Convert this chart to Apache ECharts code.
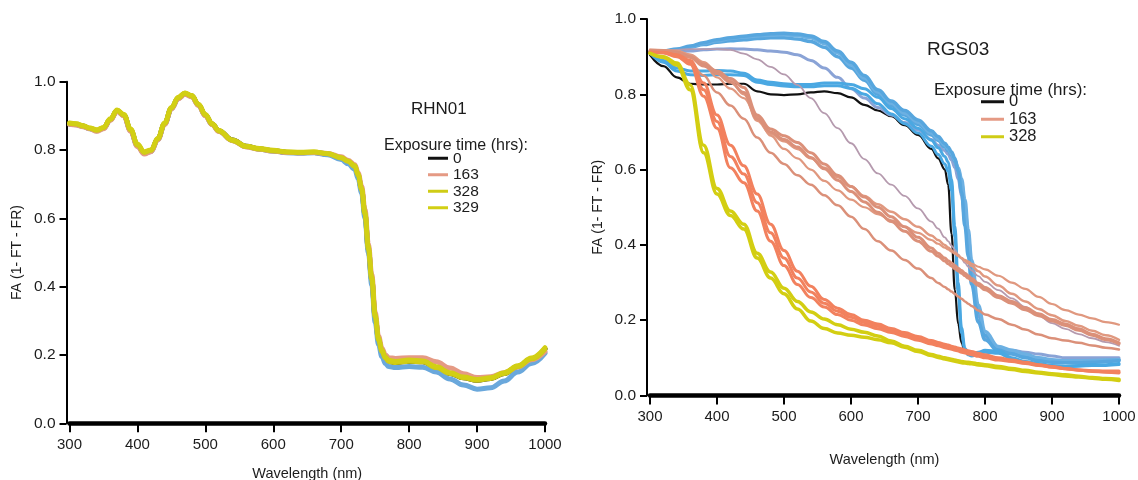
<!DOCTYPE html>
<html><head><meta charset="utf-8">
<script src="https://cdn.jsdelivr.net/npm/echarts@6/dist/echarts.min.js"></script>
<style>html,body{margin:0;padding:0;background:#fff}#c{width:1138px;height:480px}</style>
</head><body><div id="c"></div>
<script>
// ---------- Left panel: RHN01 ----------
const xTicks = [300, 400, 500, 600, 700, 800, 900, 1000];
const yTicks = [0.0, 0.2, 0.4, 0.6, 0.8, 1.0];

const rhnWl = [300,310,320,330,340,350,360,370,380,390,
  400,410,420,430,440,450,460,470,480,490,
  500,510,520,540,560,580,600,620,640,660,
  680,700,710,720,725,730,735,740,745,750,
  755,760,765,770,780,800,820,840,860,880,
  900,920,940,960,980,1000];
const rhnBlue = [.876,.874,.869,.862,.856,.863,.888,.914,.901,.857,
  .812,.790,.796,.831,.876,.921,.951,.964,.957,.931,
  .901,.875,.855,.828,.810,.802,.797,.792,.791,.792,
  .786,.772,.760,.744,.716,.674,.600,.500,.405,.296,
  .230,.195,.175,.166,.163,.166,.164,.150,.130,.112,
  .100,.104,.124,.150,.175,.205];
const rhn0 = [.877,.875,.870,.863,.857,.864,.889,.915,.902,.858,
  .813,.791,.797,.832,.877,.922,.952,.965,.958,.932,
  .902,.876,.856,.829,.811,.803,.798,.793,.792,.793,
  .788,.776,.766,.751,.725,.684,.611,.509,.419,.311,
  .244,.210,.191,.181,.178,.182,.180,.163,.146,.133,
  .126,.131,.146,.166,.189,.218];
const rhn163 = [.875,.873,.868,.862,.855,.862,.887,.913,.900,.855,
  .810,.788,.795,.830,.875,.920,.950,.963,.956,.930,
  .900,.874,.854,.827,.809,.802,.797,.793,.792,.793,
  .790,.780,.770,.757,.733,.695,.625,.525,.435,.325,
  .255,.220,.200,.192,.190,.192,.192,.180,.162,.145,
  .134,.136,.148,.165,.186,.210];
const rhn328 = [.878,.876,.870,.864,.858,.865,.890,.916,.903,.860,
  .815,.793,.799,.833,.878,.923,.953,.966,.958,.933,
  .903,.876,.856,.828,.810,.803,.798,.794,.793,.794,
  .789,.777,.767,.752,.726,.685,.612,.510,.420,.312,
  .244,.210,.191,.181,.178,.182,.180,.163,.146,.133,
  .126,.131,.146,.166,.189,.218];
const rhn329 = [.880,.878,.872,.865,.860,.867,.892,.918,.905,.862,
  .818,.796,.801,.835,.880,.925,.955,.968,.960,.935,
  .905,.878,.858,.830,.812,.805,.800,.795,.794,.795,
  .790,.778,.768,.755,.730,.690,.620,.520,.430,.320,
  .250,.215,.195,.185,.182,.186,.183,.166,.149,.136,
  .129,.134,.149,.169,.192,.222];

// ---------- Right panel: RGS03 ----------
const rgsWl = [300,320,340,360,380,400,420,440,460,480,
  500,520,540,560,580,600,620,640,660,680,
  700,720,730,740,745,750,755,760,765,770,
  775,780,790,800,820,840,860,880,900,920,
  940,960,980,1000];
const rgs0 = [.905,.875,.845,.828,.826,.826,.828,.828,.808,.800,
  .798,.800,.805,.808,.803,.792,.772,.757,.742,.718,
  .692,.655,.630,.600,.560,.430,.280,.190,.140,.115,
  .110,null,null,null,null,null,null,null,null,null,
  null,null,null,null];
const rgsBlueA = [.912,.915,.920,.928,.937,.945,.950,.954,.958,.961,
  .962,.960,.955,.940,.915,.885,.850,.812,.782,.757,
  .732,.703,.688,.670,.660,.647,.630,.595,.540,.450,
  .370,.295,.195,.148,.118,.110,.100,.092,.088,.087,
  .087,.088,.090,.092];
const rgsBlueB = [.912,.913,.917,.925,.932,.938,.942,.945,.948,.950,
  .950,.947,.940,.925,.900,.870,.837,.800,.770,.745,
  .720,.692,.677,.660,.650,.638,.622,.600,.565,.500,
  .420,.340,.225,.160,.122,.115,.105,.095,.090,.088,
  .088,.090,.092,.095];
const rgsBlueC = [.912,.912,.913,.915,.918,.920,.921,.920,.918,.915,
  .912,.905,.890,.870,.845,.815,.790,.765,.745,.725,
  .705,.680,.665,.650,.640,.625,.605,.575,.530,.460,
  .390,.320,.210,.155,.125,.120,.115,.110,.105,.100,
  .100,.100,.100,.100];
const rgsBlueD = [.912,.914,.918,.926,.935,.942,.948,.952,.955,.957,
  .958,.956,.950,.935,.910,.878,.843,.806,.776,.750,
  .726,.697,.682,.665,.655,.642,.625,.605,.575,.520,
  .440,.360,.240,.170,.130,.120,.110,.100,.095,.092,
  .092,.093,.094,.095];
const rgsBlueE = [.910,.890,.870,.862,.862,.863,.862,.856,.838,.832,
  .828,.826,.826,.830,.830,.826,.815,.792,.762,.735,
  .710,.678,.658,.635,.620,.575,.450,.300,.180,.125,
  .115,.112,.115,.120,.118,.100,.090,.085,.080,.078,
  .080,.082,.082,.085];
const rgsBlueF = [.910,.885,.862,.852,.850,.852,.852,.850,.832,.826,
  .822,.820,.820,.823,.823,.816,.800,.775,.748,.722,
  .697,.662,.640,.615,.595,.545,.420,.270,.165,.120,
  .108,.105,.110,.115,.112,.098,.088,.082,.078,.076,
  .078,.080,.080,.082];
const rgsMauve = [.910,.915,.918,.920,.920,.920,.918,.908,.893,.873,
  .853,.825,.790,.750,.710,.670,.628,.590,.560,.530,
  .497,.462,.443,.420,.410,.398,.387,.375,.363,.352,
  .342,.332,.317,.302,.280,.258,.235,.212,.192,.177,
  .163,.152,.142,.132];
const rgsSalmonA = [.918,.917,.915,.905,.880,.845,.815,.790,.740,.690,
  .655,.630,.600,.570,.545,.520,.500,.482,.465,.448,
  .432,.413,.403,.393,.388,.382,.377,.370,.365,.360,
  .356,.350,.342,.335,.318,.300,.283,.262,.243,.227,
  .215,.205,.195,.188];
const rgsSalmonB = [.915,.915,.912,.900,.880,.862,.842,.818,.745,.708,
  .690,.672,.645,.615,.585,.555,.527,.500,.475,.448,
  .420,.392,.378,.365,.358,.352,.345,.338,.332,.325,
  .318,.311,.298,.287,.265,.250,.233,.217,.202,.190,
  .177,.163,.151,.140];
const rgsSalmonB2 = [.915,.915,.912,.898,.875,.855,.832,.805,.735,.700,
  .680,.660,.632,.602,.572,.542,.514,.487,.462,.436,
  .410,.383,.370,.357,.350,.344,.337,.331,.325,.318,
  .312,.305,.292,.281,.260,.245,.228,.212,.198,.186,
  .173,.160,.148,.137];
const rgsSalmonC = [.915,.915,.910,.885,.850,.805,.770,.735,.685,.645,
  .615,.585,.560,.532,.505,.475,.442,.410,.385,.360,
  .337,.312,.299,.288,.282,.276,.270,.263,.257,.250,
  .244,.238,.226,.215,.203,.188,.175,.162,.152,.146,
  .140,.133,.127,.122];
const rgsSalmonD = [.918,.917,.915,.905,.885,.860,.835,.800,.730,.695,
  .675,.655,.630,.605,.580,.555,.530,.508,.488,.468,
  .448,.425,.413,.400,.393,.386,.379,.372,.365,.358,
  .351,.344,.330,.316,.292,.270,.250,.230,.213,.198,
  .185,.172,.160,.148];
const rgsCoralA = [.912,.910,.900,.880,.795,.710,.605,.565,.490,.410,
  .345,.295,.260,.235,.215,.200,.187,.177,.167,.157,
  .147,.137,.132,.127,.125,.123,.120,.118,.115,.113,
  .110,.108,.104,.100,.094,.090,.085,.080,.075,.071,
  .068,.066,.065,.065];
const rgsCoralB = [.912,.912,.905,.890,.830,.745,.665,.610,.535,.455,
  .385,.330,.290,.255,.232,.215,.200,.190,.178,.167,
  .157,.146,.141,.136,.134,.131,.129,.126,.124,.121,
  .119,.117,.112,.108,.100,.094,.088,.082,.077,.072,
  .068,.064,.062,.060];
const rgsCoralC = [.912,.911,.903,.885,.812,.728,.635,.588,.512,.432,
  .365,.312,.275,.245,.224,.208,.194,.184,.173,.162,
  .152,.142,.137,.132,.130,.127,.125,.122,.120,.117,
  .115,.113,.108,.104,.097,.092,.087,.081,.076,.071,
  .067,.065,.063,.062];
const rgsYellowA = [.909,.900,.883,.825,.665,.550,.490,.455,.378,.328,
  .285,.250,.222,.203,.188,.176,.168,.158,.145,.131,
  .120,.109,.104,.100,.098,.096,.094,.092,.090,.089,
  .088,.087,.084,.082,.077,.072,.067,.062,.058,.055,
  .051,.048,.045,.043];
const rgsYellowB = [.909,.898,.878,.812,.645,.535,.478,.442,.365,.312,
  .270,.230,.198,.178,.166,.160,.155,.148,.140,.128,
  .117,.106,.101,.097,.095,.093,.091,.089,.087,.086,
  .085,.084,.081,.079,.074,.069,.064,.060,.056,.052,
  .049,.046,.043,.040];

const leftLegend = ['0', '163', '328', '329'];
const rightLegend = ['0', '163', '328'];

// ---------- build ----------
const FONT = '"Liberation Sans", Arial, Helvetica, sans-serif';
const TXT = '#1c1c1c';
const pairs = (wl, v) => wl.map((w, i) => [w, v[i]]);

function line(name, wl, vals, color, width, gi) {
  return {
    name, type: 'line', xAxisIndex: gi, yAxisIndex: gi,
    data: pairs(wl, vals), showSymbol: false, symbol: 'none',
    smooth: 0.4, smoothMonotone: 'x',
    lineStyle: { color, width, cap: 'round', join: 'round' },
    itemStyle: { color },
    emphasis: { disabled: true }, silent: true
  };
}

function xAx(gi, gap) {
  return {
    gridIndex: gi, type: 'value', min: xTicks[0], max: xTicks[xTicks.length - 1], interval: 100,
    name: 'Wavelength (nm)', nameLocation: 'middle', nameGap: gap,
    nameTextStyle: { fontFamily: FONT, fontSize: 14.5, color: TXT },
    axisLine: { show: true, onZero: false, lineStyle: { color: '#000', width: 4.5 } },
    axisTick: { show: true, inside: false, length: 9, lineStyle: { color: '#000', width: 2 } },
    axisLabel: { margin: 14, fontFamily: FONT, fontSize: 15, color: TXT, formatter: v => String(v) },
    splitLine: { show: false }
  };
}
function yAx(gi) {
  return {
    gridIndex: gi, type: 'value', min: yTicks[0], max: yTicks[yTicks.length - 1], interval: 0.2,
    offset: 3,
    name: 'FA (1- FT - FR)', nameLocation: 'middle', nameGap: 42,
    nameTextStyle: { fontFamily: FONT, fontSize: 14, color: TXT },
    axisLine: { show: true, onZero: false, lineStyle: { color: '#000', width: 2 } },
    axisTick: { show: true, length: 7, lineStyle: { color: '#000', width: 2 } },
    axisLabel: { margin: 11, fontFamily: FONT, fontSize: 15.5, color: TXT, formatter: v => v.toFixed(1) },
    splitLine: { show: false }
  };
}

const BLUE = '#57a6de', BLUE2 = '#6cb0e2', LAV = '#8aa3d6', MAUVE = '#b59aae';
const SAL = '#db9079', SAL2 = '#e0987f', CORAL = '#f2815e', YEL = '#d3ce12';

const series = [
  line('0', rhnWl, rhn0, '#111111', 5, 0),
  line('blue', rhnWl, rhnBlue, '#6aa8dc', 5, 0),
  line('163', rhnWl, rhn163, '#e59a84', 5, 0),
  line('328', rhnWl, rhn328, '#cfcc16', 5, 0),
  line('329', rhnWl, rhn329, '#d2cf14', 4.5, 0),

  line('0', rgsWl, rgs0, '#111111', 2.2, 1),
  line('blue', rgsWl, rgsBlueC, LAV, 3, 1),
  line('blue', rgsWl, rgsBlueB, BLUE, 3.5, 1),
  line('blue', rgsWl, rgsBlueD, BLUE2, 3.5, 1),
  line('blue', rgsWl, rgsBlueA, BLUE, 3.5, 1),
  line('blue', rgsWl, rgsBlueF, '#4aa8e2', 3, 1),
  line('blue', rgsWl, rgsBlueE, '#4aa8e2', 3, 1),
  line('mauve', rgsWl, rgsMauve, MAUVE, 1.8, 1),
  line('163', rgsWl, rgsSalmonA, SAL2, 2.2, 1),
  line('163', rgsWl, rgsSalmonD, SAL2, 2.5, 1),
  line('163', rgsWl, rgsSalmonB, SAL, 3, 1),
  line('163', rgsWl, rgsSalmonB2, SAL, 3, 1),
  line('163', rgsWl, rgsSalmonC, SAL, 2.5, 1),
  line('163', rgsWl, rgsCoralB, CORAL, 3, 1),
  line('163', rgsWl, rgsCoralC, CORAL, 3, 1),
  line('163', rgsWl, rgsCoralA, CORAL, 3, 1),
  line('328', rgsWl, rgsYellowB, YEL, 3.5, 1),
  line('328', rgsWl, rgsYellowA, YEL, 3.5, 1)
];

const chart = echarts.init(document.getElementById('c'), null, { renderer: 'canvas' });
chart.setOption({
  animation: false,
  backgroundColor: '#ffffff',
  textStyle: { fontFamily: FONT },
  grid: [
    { left: 69.5, top: 81.7, width: 475.5, height: 341.6, containLabel: false, outerBoundsMode: 'none' },
    { left: 650, top: 19, width: 469, height: 376.5, containLabel: false, outerBoundsMode: 'none' }
  ],
  xAxis: [xAx(0, 43), xAx(1, 57)],
  yAxis: [yAx(0), yAx(1)],
  title: [
    { text: 'RHN01', left: 406, top: 96, textStyle: { fontFamily: FONT, fontSize: 17, fontWeight: 'normal', color: TXT } },
    { text: 'Exposure time (hrs):', left: 379, top: 133, textStyle: { fontFamily: FONT, fontSize: 16, fontWeight: 'normal', color: TXT } },
    { text: 'RGS03', left: 922, top: 35, textStyle: { fontFamily: FONT, fontSize: 19, fontWeight: 'normal', color: TXT } },
    { text: 'Exposure time (hrs):', left: 929, top: 77, textStyle: { fontFamily: FONT, fontSize: 17, fontWeight: 'normal', color: TXT } }
  ],
  legend: [
    { data: leftLegend, orient: 'vertical', left: 428, top: 150, icon: 'rect', itemWidth: 20, itemHeight: 3,
      itemGap: 0, selectedMode: false, padding: 0,
      textStyle: { fontFamily: FONT, fontSize: 15.5, color: TXT, lineHeight: 16.5 } },
    { data: rightLegend, orient: 'vertical', left: 981, top: 93, icon: 'rect', itemWidth: 23, itemHeight: 3,
      itemGap: 0, selectedMode: false, padding: 0,
      textStyle: { fontFamily: FONT, fontSize: 16.5, color: TXT, lineHeight: 17.5 } }
  ],
  series
});
</script></body></html>
